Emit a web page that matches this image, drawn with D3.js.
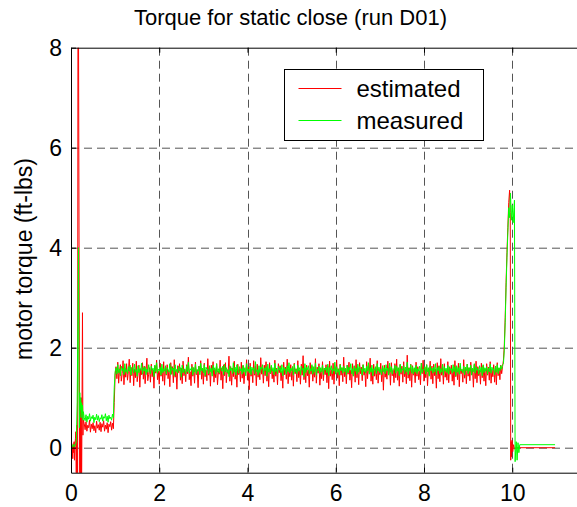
<!DOCTYPE html>
<html>
<head>
<meta charset="utf-8">
<script src="https://cdn.jsdelivr.net/npm/d3@7"></script>
<style>
  body { margin: 0; background: #fff; }
  text { font-family: "Liberation Sans", Arial, sans-serif; fill: #000; }
</style>
</head>
<body>
<svg id="chart" width="577" height="507"></svg>
<script>
// axis ticks (the box runs on to t = 12, past the right edge)
const xTicks = [0, 2, 4, 6, 8, 10];
const yTicks = [0, 2, 4, 6, 8];
const xMax = 12;
const seriesNames = ["estimated", "measured"];

// samples in the middle part are taken every 0.02 s starting at 0.30 s
const sampleStep = 0.02;
const bodyStart = 0.30;

// estimated torque (red)
const estHeadTime = [0.00, 0.01, 0.02, 0.03, 0.04, 0.05, 0.06, 0.07, 0.08, 0.09, 0.10, 0.11, 0.12, 0.13, 0.15, 0.16, 0.20, 0.21, 0.22, 0.23, 0.24, 0.26, 0.27, 0.28];
const estHeadValue = [-0.05, 0.06, -0.15, 0.02, -0.22, 0.08, -0.10, 0.12, -0.25, 0.05, 0.18, 0.32, -0.9, 0.45, -0.9, 12, -2, 0.8, -0.9, 1.0, -0.9, 2.7, 0.25, 0.55];
const estBody = [
  0.48, 0.36, 0.52, 0.33, 0.45, 0.40, 0.55, 0.31, 0.47, 0.38, 0.50, 0.34, 0.44, 0.30, 0.53, 0.39, 0.46,
  0.35, 0.51, 0.32, 0.48, 0.41, 0.54, 0.33, 0.45, 0.37, 0.50, 0.30, 0.47, 0.42, 0.52, 0.35, 0.49, 0.38,
  0.90,
  1.45, 1.62, 1.38, 1.71, 1.29, 1.55, 1.66, 1.33, 1.48, 1.74, 1.26, 1.59, 1.41, 1.68, 1.35, 1.52, 1.77, 1.30, 1.61, 1.44,
  1.69, 1.24, 1.57, 1.40, 1.73, 1.32, 1.50, 1.65, 1.21, 1.58, 1.46, 1.70, 1.37, 1.63, 1.28, 1.54, 1.79, 1.34, 1.47, 1.60,
  1.31, 1.67, 1.42, 1.56, 1.19, 1.64, 1.49, 1.75, 1.36, 1.53, 1.27, 1.69, 1.43, 1.58, 1.33, 1.72, 1.25, 1.61, 1.45, 1.66,
  1.38, 1.54, 1.22, 1.70, 1.47, 1.62, 1.30, 1.76, 1.41, 1.55, 1.17, 1.64, 1.50, 1.68, 1.35, 1.59, 1.28, 1.73, 1.44, 1.57,
  1.32, 1.66, 1.48, 1.81, 1.36, 1.52, 1.24, 1.67, 1.43, 1.60, 1.29, 1.71, 1.46, 1.56, 1.20, 1.63, 1.51, 1.74, 1.37, 1.58,
  1.27, 1.69, 1.42, 1.55, 1.34, 1.78, 1.45, 1.61, 1.23, 1.65, 1.49, 1.72, 1.31, 1.57, 1.40, 1.68, 1.26, 1.53, 1.47, 1.75,
  1.35, 1.60, 1.18, 1.66, 1.44, 1.70, 1.30, 1.56, 1.48, 1.83, 1.33, 1.62, 1.25, 1.59, 1.42, 1.73, 1.37, 1.54, 1.21, 1.67,
  1.46, 1.58, 1.32, 1.71, 1.39, 1.64, 1.28, 1.52, 1.50, 1.76, 1.35, 1.61, 1.16, 1.69, 1.43, 1.57, 1.30, 1.74, 1.45, 1.63,
  1.24, 1.67, 1.41, 1.55, 1.36, 1.80, 1.47, 1.60, 1.29, 1.65, 1.44, 1.72, 1.33, 1.58, 1.22, 1.70, 1.48, 1.62, 1.38, 1.56,
  1.31, 1.75, 1.43, 1.59, 1.26, 1.68, 1.50, 1.64, 1.34, 1.53, 1.19, 1.71, 1.46, 1.61, 1.37, 1.77, 1.28, 1.57, 1.42, 1.66,
  1.35, 1.62, 1.23, 1.69, 1.48, 1.58, 1.32, 1.74, 1.40, 1.55, 1.27, 1.67, 1.45, 1.84, 1.36, 1.60, 1.30, 1.65, 1.44, 1.56,
  1.21, 1.70, 1.47, 1.63, 1.33, 1.57, 1.41, 1.78, 1.29, 1.61, 1.49, 1.68, 1.25, 1.54, 1.38, 1.72, 1.34, 1.59, 1.46, 1.66,
  1.30, 1.64, 1.18, 1.73, 1.43, 1.56, 1.36, 1.69, 1.27, 1.62, 1.50, 1.75, 1.39, 1.58, 1.24, 1.67, 1.45, 1.60, 1.32, 1.81,
  1.42, 1.57, 1.28, 1.65, 1.47, 1.71, 1.35, 1.55, 1.20, 1.68, 1.44, 1.63, 1.31, 1.76, 1.40, 1.59, 1.26, 1.70, 1.48, 1.61,
  1.34, 1.66, 1.45, 1.53, 1.22, 1.72, 1.38, 1.64, 1.49, 1.79, 1.33, 1.58, 1.27, 1.67, 1.43, 1.60, 1.36, 1.74, 1.29, 1.56,
  1.46, 1.69, 1.32, 1.62, 1.15, 1.65, 1.41, 1.57, 1.37, 1.73, 1.48, 1.61, 1.25, 1.70, 1.44, 1.55, 1.30, 1.68, 1.40, 1.77,
  1.35, 1.59, 1.23, 1.66, 1.47, 1.63, 1.31, 1.72, 1.42, 1.56, 1.28, 1.85, 1.39, 1.60, 1.34, 1.67, 1.21, 1.64, 1.45, 1.58,
  1.30, 1.71, 1.43, 1.62, 1.36, 1.54, 1.26, 1.69, 1.48, 1.75, 1.33, 1.61, 1.40, 1.66, 1.24, 1.58, 1.46, 1.73, 1.37, 1.63,
  1.28, 1.67, 1.44, 1.57, 1.19, 1.70, 1.38, 1.64, 1.32, 1.78, 1.45, 1.60, 1.27, 1.68, 1.41, 1.55, 1.35, 1.72, 1.30, 1.62,
  1.47, 1.65, 1.33, 1.58, 1.25, 1.74, 1.42, 1.61, 1.36, 1.69, 1.22, 1.63, 1.48, 1.56, 1.31, 1.76, 1.39, 1.59, 1.28, 1.67,
  1.43, 1.60, 1.34, 1.71, 1.46, 1.57, 1.21, 1.66, 1.38, 1.73, 1.30, 1.62, 1.44, 1.55, 1.27, 1.69, 1.40, 1.64, 1.33, 1.58,
  1.24, 1.68, 1.45, 1.61, 1.35, 1.72, 1.29, 1.56, 1.42, 1.66, 1.31, 1.63, 1.26, 1.70, 1.44, 1.59, 1.36, 1.65, 1.48, 1.62
];
const estTailTime = [9.80, 9.82, 9.84, 9.86, 9.88, 9.90, 9.92, 9.94, 9.955, 9.965, 9.975, 9.985, 9.995, 10.01, 10.03, 10.05, 10.08, 10.97];
const estTailValue = [1.75, 2.05, 2.6, 3.3, 3.9, 4.4, 4.9, 5.15, 4.7, -0.25, 0.12, -0.18, 0.15, -0.08, 0.06, -0.03, 0.0, 0.0];

// measured torque (green)
const measHeadTime = [0.00, 0.02, 0.04, 0.06, 0.08, 0.10, 0.12, 0.14, 0.17, 0.18, 0.19, 0.20, 0.21, 0.22, 0.23, 0.24, 0.25, 0.26, 0.27, 0.28];
const measHeadValue = [0.03, 0.06, 0.01, 0.07, 0.02, 0.05, 0.12, 0.9, 4.0, 1.3, 0.4, 1.1, 0.75, 1.0, 0.6, 0.9, 0.7, 0.85, 0.55, 0.72];
const measBody = [
  0.60, 0.54, 0.66, 0.51, 0.63, 0.57, 0.68, 0.53, 0.62, 0.58, 0.65, 0.50, 0.61, 0.56, 0.67, 0.55, 0.64,
  0.52, 0.60, 0.57, 0.66, 0.53, 0.62, 0.59, 0.68, 0.54, 0.63, 0.51, 0.65, 0.58, 0.61, 0.55, 0.67, 0.60,
  1.20,
  1.52, 1.60, 1.47, 1.66, 1.50, 1.57, 1.44, 1.63, 1.54, 1.59, 1.46, 1.68, 1.51, 1.56, 1.48, 1.62, 1.53, 1.65, 1.45, 1.58,
  1.61, 1.49, 1.67, 1.52, 1.56, 1.43, 1.64, 1.50, 1.58, 1.55, 1.69, 1.47, 1.60, 1.53, 1.62, 1.46, 1.57, 1.51, 1.66, 1.54,
  1.48, 1.63, 1.55, 1.59, 1.42, 1.65, 1.52, 1.70, 1.49, 1.57, 1.54, 1.61, 1.45, 1.67, 1.50, 1.58, 1.53, 1.64, 1.47, 1.60,
  1.56, 1.51, 1.68, 1.46, 1.62, 1.55, 1.59, 1.44, 1.66, 1.52, 1.57, 1.49, 1.63, 1.54, 1.60, 1.41, 1.65, 1.50, 1.58, 1.53,
  1.47, 1.64, 1.52, 1.71, 1.49, 1.58, 1.55, 1.62, 1.45, 1.60, 1.51, 1.67, 1.48, 1.56, 1.53, 1.63, 1.46, 1.69, 1.54, 1.59,
  1.50, 1.66, 1.44, 1.61, 1.56, 1.57, 1.48, 1.64, 1.52, 1.59, 1.43, 1.65, 1.55, 1.60, 1.47, 1.68, 1.51, 1.58, 1.49, 1.62,
  1.57, 1.53, 1.63, 1.46, 1.67, 1.52, 1.60, 1.50, 1.56, 1.42, 1.64, 1.54, 1.59, 1.48, 1.70, 1.51, 1.61, 1.45, 1.66, 1.55,
  1.49, 1.62, 1.54, 1.58, 1.47, 1.65, 1.51, 1.60, 1.44, 1.68, 1.53, 1.57, 1.50, 1.63, 1.46, 1.61, 1.55, 1.59, 1.48, 1.72,
  1.52, 1.56, 1.45, 1.64, 1.50, 1.61, 1.57, 1.66, 1.47, 1.59, 1.54, 1.62, 1.43, 1.67, 1.51, 1.58, 1.49, 1.65, 1.53, 1.60,
  1.46, 1.69, 1.52, 1.57, 1.48, 1.63, 1.55, 1.60, 1.50, 1.66, 1.44, 1.61, 1.56, 1.58, 1.47, 1.64, 1.52, 1.70, 1.49, 1.59,
  1.54, 1.62, 1.45, 1.67, 1.51, 1.57, 1.48, 1.65, 1.53, 1.60, 1.46, 1.63, 1.55, 1.59, 1.42, 1.68, 1.50, 1.61, 1.56, 1.64,
  1.48, 1.58, 1.53, 1.66, 1.47, 1.62, 1.51, 1.69, 1.45, 1.57, 1.54, 1.63, 1.49, 1.60, 1.52, 1.65, 1.46, 1.59, 1.55, 1.61,
  1.50, 1.67, 1.44, 1.60, 1.56, 1.64, 1.48, 1.58, 1.53, 1.71, 1.47, 1.62, 1.51, 1.57, 1.45, 1.66, 1.54, 1.60, 1.49, 1.63,
  1.52, 1.59, 1.46, 1.65, 1.50, 1.61, 1.55, 1.68, 1.48, 1.58, 1.43, 1.64, 1.53, 1.60, 1.47, 1.67, 1.51, 1.62, 1.56, 1.57,
  1.45, 1.66, 1.52, 1.59, 1.49, 1.63, 1.54, 1.70, 1.47, 1.60, 1.51, 1.65, 1.44, 1.58, 1.55, 1.62, 1.48, 1.68, 1.53, 1.61,
  1.50, 1.57, 1.46, 1.64, 1.52, 1.60, 1.48, 1.66, 1.54, 1.59, 1.45, 1.69, 1.51, 1.62, 1.47, 1.58, 1.56, 1.65, 1.49, 1.63,
  1.53, 1.60, 1.44, 1.67, 1.50, 1.58, 1.55, 1.64, 1.48, 1.61, 1.52, 1.71, 1.46, 1.59, 1.54, 1.66, 1.49, 1.62, 1.47, 1.60,
  1.51, 1.65, 1.48, 1.58, 1.53, 1.63, 1.45, 1.69, 1.50, 1.57, 1.55, 1.62, 1.47, 1.66, 1.52, 1.60, 1.43, 1.64, 1.54, 1.59,
  1.49, 1.61, 1.52, 1.68, 1.46, 1.60, 1.54, 1.63, 1.48, 1.58, 1.51, 1.67, 1.45, 1.62, 1.53, 1.59, 1.50, 1.65, 1.47, 1.61,
  1.55, 1.58, 1.49, 1.66, 1.52, 1.62, 1.44, 1.64, 1.51, 1.60, 1.47, 1.69, 1.53, 1.57, 1.50, 1.63, 1.46, 1.61, 1.54, 1.67,
  1.48, 1.60, 1.53, 1.65, 1.45, 1.59, 1.52, 1.68, 1.49, 1.62, 1.55, 1.58, 1.47, 1.64, 1.51, 1.61, 1.44, 1.66, 1.50, 1.60,
  1.53, 1.62, 1.47, 1.59, 1.52, 1.67, 1.49, 1.61, 1.55, 1.58, 1.46, 1.63, 1.51, 1.66, 1.48, 1.60, 1.54, 1.64, 1.57, 1.66
];
const measTailTime = [9.80, 9.82, 9.84, 9.86, 9.88, 9.90, 9.92, 9.94, 9.96, 9.98, 10.00, 10.02, 10.04, 10.05, 10.065, 10.09, 10.11, 10.13, 10.15, 10.17, 10.97];
const measTailValue = [1.68, 1.95, 2.5, 3.2, 3.8, 4.3, 4.8, 4.6, 5.09, 4.55, 4.85, 4.5, 4.8, 4.95, -0.28, 0.12, -0.25, 0.1, -0.1, 0.06, 0.06];

// join head, evenly sampled body and tail into one list of points
function buildSeries(headT, headV, body, tailT, tailV) {
  const pts = headT.map((t, i) => [t, headV[i]]);
  body.forEach((v, i) => pts.push([bodyStart + i * sampleStep, v]));
  tailT.forEach((t, i) => pts.push([t, tailV[i]]));
  return pts;
}

const series = [
  { name: seriesNames[0], color: "#ff0000", points: buildSeries(estHeadTime, estHeadValue, estBody, estTailTime, estTailValue) },
  { name: seriesNames[1], color: "#00ff00", points: buildSeries(measHeadTime, measHeadValue, measBody, measTailTime, measTailValue) },
];

const margin = { left: 71, top: 47.7 };
const plotW = 529.5, plotH = 425;

const svg = d3.select("#chart");
const g = svg.append("g").attr("transform", `translate(${margin.left},${margin.top})`);

const x = d3.scaleLinear().domain([0, xMax]).range([0, plotW]);
const y = d3.scaleLinear().domain([-0.5, 8]).range([plotH, 0]);

// dashed grid
const grid = g.append("g")
  .attr("stroke", "#555")
  .attr("stroke-width", 1)
  .attr("stroke-dasharray", "8,5");
grid.selectAll("line.vx")
  .data(xTicks.filter((d) => d > 0))
  .enter().append("line")
  .attr("x1", (d) => Math.round(x(d)) + 0.5).attr("x2", (d) => Math.round(x(d)) + 0.5)
  .attr("y1", 0).attr("y2", plotH);
grid.selectAll("line.hy")
  .data(yTicks.filter((d) => d < 8))
  .enter().append("line")
  .attr("y1", (d) => Math.round(y(d)) + 0.5).attr("y2", (d) => Math.round(y(d)) + 0.5)
  .attr("x1", 0).attr("x2", plotW);

// data lines, clipped to the axes box
svg.append("defs").append("clipPath").attr("id", "plotClip")
  .append("rect").attr("width", plotW).attr("height", plotH);

const line = d3.line().x((d) => x(d[0])).y((d) => y(d[1]));
g.append("g").attr("clip-path", "url(#plotClip)")
  .selectAll("path")
  .data(series)
  .enter().append("path")
  .attr("fill", "none")
  .attr("stroke", (d) => d.color)
  .attr("stroke-width", 1)
  .attr("d", (d) => line(d.points));

// axes with inward ticks (box on)
const bottomAxis = g.append("g").attr("transform", `translate(0,${plotH})`)
  .call(d3.axisBottom(x).tickValues(xTicks).tickSize(-5).tickSizeOuter(0).tickPadding(12));
const leftAxis = g.append("g")
  .call(d3.axisLeft(y).tickValues(yTicks).tickSize(-5).tickSizeOuter(0).tickPadding(9));
g.append("g")
  .call(d3.axisTop(x).tickValues(xTicks).tickSize(-5).tickSizeOuter(0).tickFormat(""));
g.append("g").attr("transform", `translate(${plotW},0)`)
  .call(d3.axisRight(y).tickValues(yTicks).tickSize(-5).tickSizeOuter(0).tickFormat(""));

g.selectAll(".domain, .tick line").attr("stroke", "#000");
[bottomAxis, leftAxis].forEach((a) =>
  a.selectAll("text")
    .style("font-family", "'Liberation Sans', Arial, sans-serif")
    .style("font-size", "23px")
    .attr("fill", "#000"));

// legend
const legend = svg.append("g").attr("transform", "translate(284.5,69.5)");
legend.append("rect")
  .attr("width", 199).attr("height", 71)
  .attr("fill", "#fff").attr("stroke", "#000");
const item = legend.selectAll("g.item")
  .data(series)
  .enter().append("g")
  .attr("transform", (d, i) => `translate(0,${19 + i * 32})`);
item.append("line")
  .attr("x1", 14).attr("x2", 57)
  .attr("stroke", (d) => d.color);
item.append("text")
  .attr("x", 72).attr("y", 8)
  .style("font-size", "24px")
  .text((d) => d.name);

// title and y label
svg.append("text")
  .attr("x", 290.5).attr("y", 25)
  .attr("text-anchor", "middle")
  .style("font-size", "22px")
  .text("Torque for static close (run D01)");

svg.append("text")
  .attr("transform", "translate(31.5,259) rotate(-90)")
  .attr("text-anchor", "middle")
  .style("font-size", "23px")
  .text("motor torque (ft-lbs)");
</script>
</body>
</html>
